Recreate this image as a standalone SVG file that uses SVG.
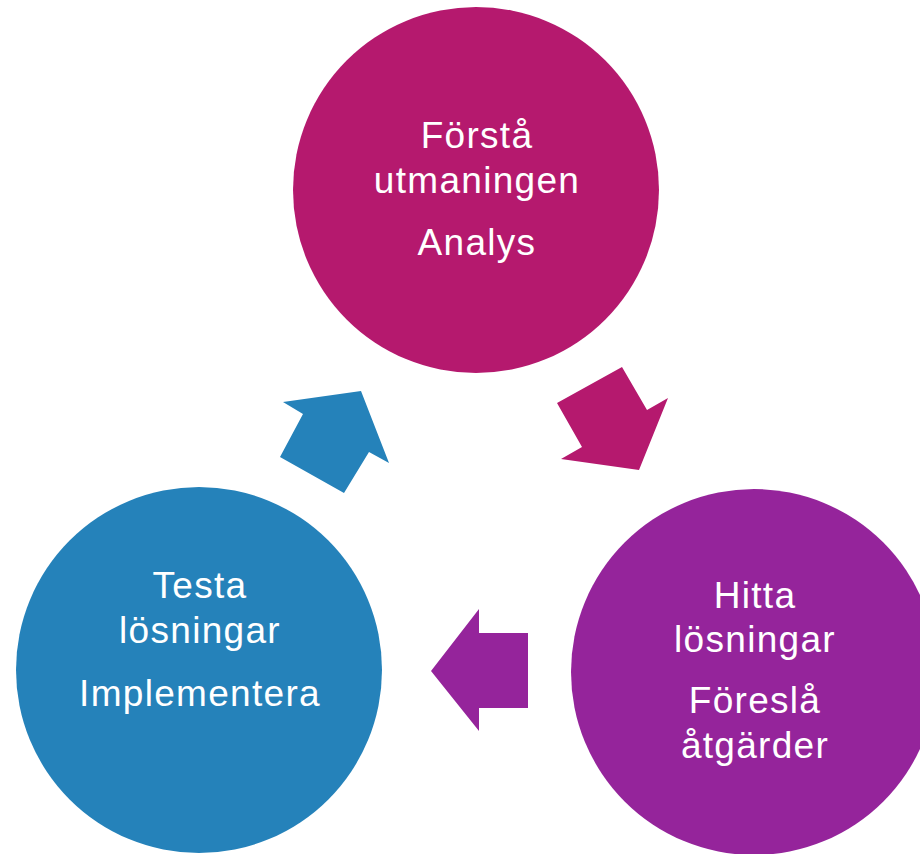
<svg xmlns="http://www.w3.org/2000/svg" width="920" height="854" viewBox="0 0 920 854">
<style>
.t{font-family:"Liberation Sans",Arial,sans-serif;font-size:37px;letter-spacing:1.3px;fill:#ffffff;text-anchor:middle}
.mag{fill:#B5196E}
.pur{fill:#95249B}
.blu{fill:#2582BA}
</style>
<rect width="920" height="854" fill="#ffffff"/>
<g id="connectors">
<polygon class="mag" points="557,403 622,367 647,410 668,398 639,470 561,459 582,447"/>
<polygon class="pur" points="431,671 479,609 479,633 528,633 528,708 479,708 479,731"/>
<polygon class="blu" points="283,402 361,391 389,463 369,452 344,493 280,457 303,414"/>
</g>
<g id="node-analys">
<circle class="mag" cx="476" cy="190" r="183"/>
<text class="t" x="477" y="148">Förstå</text>
<text class="t" x="477" y="193">utmaningen</text>
<text class="t" x="477" y="255">Analys</text>
</g>
<g id="node-atgarder">
<circle class="pur" cx="754" cy="672" r="183"/>
<text class="t" x="755" y="608">Hitta</text>
<text class="t" x="755" y="652">lösningar</text>
<text class="t" x="755" y="713">Föreslå</text>
<text class="t" x="755" y="758">åtgärder</text>
</g>
<g id="node-implementera">
<circle class="blu" cx="199" cy="670" r="183"/>
<text class="t" x="200" y="598">Testa</text>
<text class="t" x="200" y="643">lösningar</text>
<text class="t" x="200" y="706">Implementera</text>
</g>
</svg>
